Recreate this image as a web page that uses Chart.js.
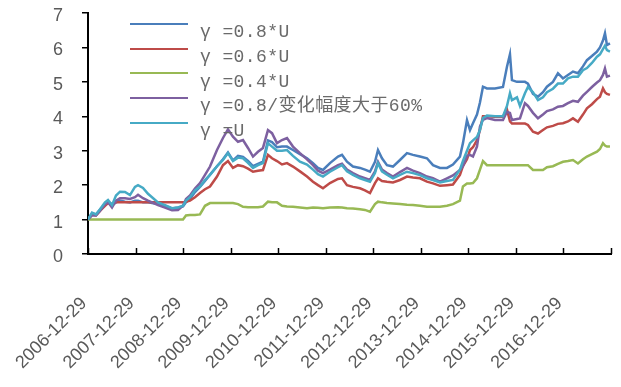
<!DOCTYPE html>
<html>
<head>
<meta charset="utf-8">
<script src="https://cdn.jsdelivr.net/npm/chart.js@4"></script>
<style>
  html, body { margin: 0; padding: 0; background: #fff; }
  #wrap { position: relative; width: 621px; height: 387px; }
  #legend { position: absolute; left: 0; top: 0; width: 621px; height: 150px; pointer-events: none; }
  .lg-line { position: absolute; left: 130px; width: 58px; height: 0; border-top: 2.5px solid; }
  .lg-text { position: absolute; left: 200px; font-family: "Liberation Mono", "Noto Sans CJK SC", monospace; font-size: 18px; line-height: 18px; color: #6a6a6a; white-space: nowrap; letter-spacing: 0.4px; }
</style>
</head>
<body>
<div id="wrap">
  <canvas id="c" width="621" height="387"></canvas>
  <div id="legend"></div>
</div>
<script>
// ---- data (years since 2006-12-29) ----
const years = [0.000,0.084,0.168,0.252,0.358,0.421,0.505,0.589,0.673,0.778,0.883,0.988,1.052,1.157,1.262,1.346,1.472,1.619,1.767,1.893,1.998,2.061,2.145,2.250,2.355,2.461,2.566,2.713,2.839,2.944,3.049,3.155,3.260,3.365,3.470,3.575,3.680,3.785,3.870,3.975,4.080,4.185,4.311,4.458,4.606,4.732,4.837,4.942,5.089,5.258,5.342,5.447,5.573,5.720,5.825,5.931,6.036,6.099,6.183,6.288,6.414,6.562,6.709,6.835,6.982,7.129,7.256,7.403,7.550,7.676,7.823,7.886,7.971,8.034,8.097,8.181,8.244,8.307,8.391,8.559,8.728,8.812,8.875,8.917,9.022,9.085,9.190,9.253,9.359,9.464,9.569,9.653,9.779,9.884,9.990,10.095,10.200,10.305,10.410,10.494,10.599,10.705,10.768,10.831,10.873,10.915,10.978];

const seriesNames = ["γ =0.8*U", "γ =0.6*U", "γ =0.4*U", "γ =0.8/变化幅度大于60%", "γ =U"];

const blue08 = [1.0,1.18,1.15,1.28,1.45,1.52,1.42,1.5,1.55,1.52,1.5,1.55,1.55,1.5,1.5,1.48,1.45,1.4,1.32,1.35,1.38,1.5,1.6,1.8,1.95,2.12,2.3,2.55,2.75,2.95,2.72,2.85,2.82,2.7,2.55,2.62,2.68,3.3,3.25,3.1,3.12,3.12,3.02,2.9,2.78,2.64,2.5,2.44,2.64,2.83,2.88,2.68,2.54,2.5,2.45,2.39,2.68,3.02,2.78,2.58,2.54,2.73,2.93,2.88,2.83,2.78,2.58,2.5,2.5,2.6,2.83,3.22,3.89,3.6,3.8,4.05,4.4,4.86,4.81,4.81,4.85,5.44,5.8,5.05,5.0,5.0,5.0,4.95,4.65,4.57,4.7,4.86,5.0,5.25,5.1,5.2,5.3,5.25,5.45,5.63,5.75,5.88,6.0,6.2,6.41,6.07,6.12];

const red06 = [1.0,1.15,1.12,1.25,1.4,1.48,1.45,1.5,1.5,1.5,1.5,1.5,1.5,1.5,1.5,1.5,1.5,1.5,1.5,1.5,1.5,1.52,1.55,1.65,1.77,1.88,1.96,2.25,2.58,2.7,2.5,2.58,2.55,2.48,2.39,2.42,2.44,2.88,2.78,2.7,2.6,2.64,2.54,2.4,2.25,2.1,2.0,1.91,2.06,2.18,2.2,2.0,1.95,1.91,1.85,1.77,2.06,2.2,2.12,2.1,2.08,2.15,2.25,2.22,2.2,2.1,2.05,1.98,2.0,2.02,2.3,2.55,2.75,3.02,3.1,3.31,3.6,4.0,4.0,3.99,3.99,4.2,3.85,3.79,3.79,3.79,3.79,3.75,3.55,3.5,3.6,3.68,3.72,3.78,3.8,3.85,3.94,3.84,4.05,4.23,4.35,4.5,4.57,4.81,4.7,4.65,4.62];

const green04 = [1.0,1.0,1.0,1.0,1.0,1.0,1.0,1.0,1.0,1.0,1.0,1.0,1.0,1.0,1.0,1.0,1.0,1.0,1.0,1.0,1.0,1.12,1.13,1.13,1.15,1.4,1.48,1.48,1.48,1.48,1.48,1.45,1.37,1.36,1.36,1.36,1.38,1.52,1.5,1.5,1.4,1.38,1.37,1.35,1.33,1.35,1.34,1.33,1.35,1.36,1.35,1.33,1.32,1.3,1.28,1.23,1.45,1.52,1.5,1.48,1.47,1.45,1.43,1.42,1.4,1.37,1.37,1.37,1.4,1.45,1.55,1.96,2.05,2.05,2.06,2.2,2.45,2.7,2.58,2.58,2.58,2.58,2.58,2.58,2.58,2.58,2.58,2.58,2.44,2.44,2.44,2.52,2.55,2.62,2.68,2.7,2.73,2.63,2.75,2.83,2.9,2.97,3.05,3.22,3.15,3.12,3.12];

const purple08v = [1.0,1.12,1.12,1.25,1.45,1.5,1.35,1.55,1.62,1.62,1.6,1.65,1.72,1.62,1.55,1.5,1.42,1.35,1.27,1.28,1.4,1.6,1.7,1.9,2.06,2.3,2.54,3.02,3.37,3.62,3.41,3.26,3.31,3.08,2.83,2.97,3.08,3.6,3.51,3.22,3.31,3.37,3.12,2.93,2.75,2.58,2.42,2.35,2.45,2.58,2.62,2.45,2.35,2.25,2.2,2.15,2.4,2.68,2.45,2.35,2.25,2.38,2.5,2.42,2.35,2.25,2.2,2.1,2.2,2.28,2.44,2.55,2.85,2.88,2.83,3.12,3.7,3.9,3.95,3.89,3.89,4.13,4.1,3.89,3.92,3.94,4.38,4.3,4.1,3.94,4.05,4.15,4.2,4.28,4.3,4.38,4.45,4.42,4.6,4.71,4.85,4.98,5.05,5.2,5.39,5.15,5.18];

const cyanU = [1.0,1.2,1.15,1.3,1.5,1.57,1.42,1.7,1.81,1.8,1.71,1.95,2.0,1.92,1.75,1.65,1.5,1.42,1.33,1.35,1.4,1.55,1.65,1.85,1.96,2.15,2.3,2.55,2.73,2.93,2.7,2.8,2.78,2.65,2.5,2.58,2.64,3.22,3.12,3.0,3.0,3.02,2.85,2.68,2.6,2.45,2.32,2.25,2.39,2.52,2.58,2.4,2.3,2.2,2.15,2.1,2.35,2.64,2.4,2.3,2.2,2.3,2.39,2.35,2.29,2.2,2.15,2.08,2.12,2.15,2.45,2.7,3.0,3.22,3.3,3.4,3.6,3.95,4.02,4.0,4.0,4.3,4.67,4.47,4.55,4.3,4.67,4.85,4.7,4.47,4.55,4.7,4.8,4.95,4.95,5.1,5.15,5.15,5.34,5.4,5.55,5.73,5.8,5.95,6.05,5.92,5.88];

const xTickLabels = ["2006-12-29","2007-12-29","2008-12-29","2009-12-29","2010-12-29","2011-12-29","2012-12-29","2013-12-29","2014-12-29","2015-12-29","2016-12-29"];
const yTicks = [0,1,2,3,4,5,6,7];

const colors = ["#4A7EBB", "#BE4B48", "#98B954", "#7D60A0", "#46AAC5"];
const valueSets = [blue08, red06, green04, purple08v, cyanU];
const drawOrder = [5, 4, 3, 2, 1];

const datasets = valueSets.map((vals, k) => ({
  label: seriesNames[k],
  data: vals.map((v, i) => ({ x: years[i], y: v })),
  borderColor: colors[k],
  backgroundColor: colors[k],
  borderWidth: 2.5,
  pointRadius: 0,
  tension: 0,
  fill: false,
  order: drawOrder[k]
}));

const innerTicks = {
  id: 'innerTicks',
  afterDraw(chart) {
    const sx = chart.scales.x, ctx = chart.ctx, b = chart.chartArea.bottom;
    ctx.save();
    ctx.strokeStyle = '#000';
    ctx.lineWidth = 1.5;
    sx.ticks.forEach((t, i) => {
      const px = Math.round(sx.getPixelForTick(i)) + 0.5;
      ctx.beginPath();
      ctx.moveTo(px, b);
      ctx.lineTo(px, b - 6);
      ctx.stroke();
    });
    ctx.restore();
  }
};

function noPad(s) { s.paddingTop = 0; s.paddingBottom = 0; s.paddingLeft = 0; s.paddingRight = 0; }

new Chart(document.getElementById('c'), {
  type: 'line',
  data: { datasets },
  plugins: [innerTicks],
  options: {
    responsive: false,
    devicePixelRatio: 1,
    animation: false,
    layout: { padding: { top: 13, right: 10, left: 0, bottom: 0 } },
    plugins: { legend: { display: false }, tooltip: { enabled: false } },
    scales: {
      x: {
        type: 'linear',
        min: 0, max: 11,
        afterFit: s => { s.height = 133; noPad(s); },
        afterBuildTicks: s => { s.ticks = Array.from({length: 12}, (_, i) => ({ value: i })); },
        grid: { display: false },
        border: { display: true, color: '#000', width: 2 },
        ticks: {
          autoSkip: false,
          minRotation: 45, maxRotation: 45,
          padding: 31,
          labelOffset: -4,
          color: '#595959',
          font: { family: 'Liberation Sans', size: 18 },
          callback: v => (xTickLabels[v] !== undefined ? xTickLabels[v] : '')
        }
      },
      y: {
        min: 0, max: 7,
        afterFit: s => { s.width = 88; noPad(s); },
        afterBuildTicks: s => { s.ticks = yTicks.map(v => ({ value: v })); },
        grid: { drawOnChartArea: false, drawTicks: true, tickLength: 6, color: '#000', lineWidth: 1.5 },
        border: { display: true, color: '#000', width: 2 },
        ticks: {
          padding: 19,
          labelOffset: 3,
          color: '#595959',
          font: { family: 'Liberation Sans', size: 18 }
        }
      }
    }
  }
});

// legend (HTML text over the chart, built from the series names/colours)
const lg = document.getElementById('legend');
seriesNames.forEach((name, k) => {
  const y = 24 + k * 24.8;
  const line = document.createElement('div');
  line.className = 'lg-line';
  line.style.top = (y - 1.25) + 'px';
  line.style.borderTopColor = colors[k];
  const txt = document.createElement('div');
  txt.className = 'lg-text';
  txt.style.top = (y - 1) + 'px';
  txt.textContent = name;
  lg.appendChild(line);
  lg.appendChild(txt);
});
</script>
</body>
</html>
